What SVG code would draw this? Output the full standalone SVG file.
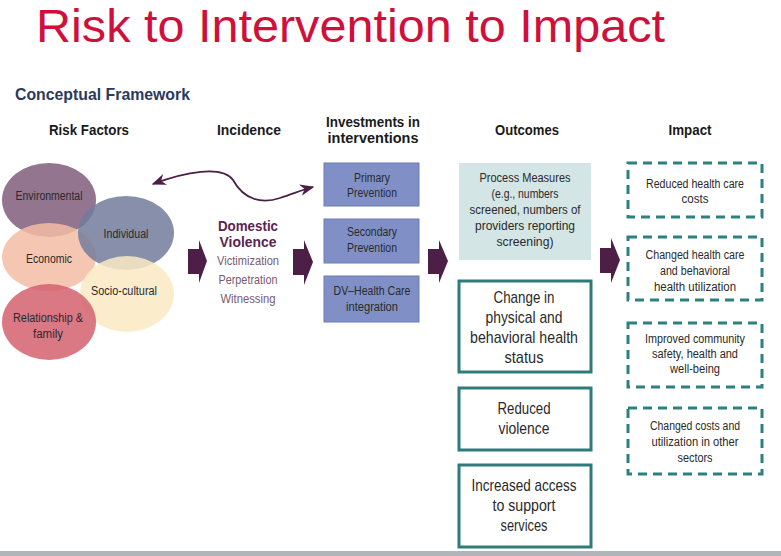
<svg xmlns="http://www.w3.org/2000/svg" width="781" height="556" viewBox="0 0 781 556">
<defs>
<style>
text{font-family:"Liberation Sans Narrow","Liberation Sans",Arial,sans-serif;}
.hd{font-size:15px;font-weight:bold;fill:#1a1a1a;text-anchor:middle;}
.sm{font-size:12.5px;fill:#2a2a2a;text-anchor:middle;}
.big{font-size:17px;fill:#2a2a2a;text-anchor:middle;}
.dv{font-size:14.5px;font-weight:bold;fill:#5a2550;text-anchor:middle;}
.dvs{font-size:13px;fill:#7a5a72;text-anchor:middle;}
.inv{fill:#8090c6;stroke:#6d7db4;stroke-width:1;}
.out{fill:#ffffff;stroke:#2e7b7b;stroke-width:3;}
.imp{fill:#ffffff;stroke:#2e8080;stroke-width:3;stroke-dasharray:9 6;}
.blk{fill:#4e1f46;}
</style>
<marker id="ah" viewBox="0 0 10 10" refX="9" refY="5" markerWidth="8" markerHeight="8" orient="auto-start-reverse">
<path d="M0,1 L10,5 L0,9 L3,5 Z" fill="#4e1f46"/>
</marker>
</defs>
<rect width="781" height="556" fill="#ffffff"/>
<text x="36" y="42" font-size="46" fill="#d0103a" textLength="629" lengthAdjust="spacingAndGlyphs">Risk to Intervention to Impact</text>
<text x="15" y="100" font-size="17" font-weight="bold" fill="#2a3a5c" textLength="175" lengthAdjust="spacingAndGlyphs">Conceptual Framework</text>
<rect x="0" y="551" width="781" height="5" fill="#b0b5b9"/>

<g id="headings">
<text x="89" y="135" class="hd" textLength="80" lengthAdjust="spacingAndGlyphs">Risk Factors</text>
<text x="249" y="135" class="hd" textLength="64" lengthAdjust="spacingAndGlyphs">Incidence</text>
<text x="373" y="127" class="hd" textLength="94" lengthAdjust="spacingAndGlyphs">Investments in</text>
<text x="373" y="143" class="hd" textLength="91" lengthAdjust="spacingAndGlyphs">interventions</text>
<text x="527" y="135" class="hd" textLength="64" lengthAdjust="spacingAndGlyphs">Outcomes</text>
<text x="690" y="135" class="hd" textLength="43" lengthAdjust="spacingAndGlyphs">Impact</text>
</g>

<g id="risk-factors">
<g id="environmental"><ellipse cx="49" cy="200" rx="47" ry="37" fill="#876683" fill-opacity="0.9"/></g>
<g id="economic"><ellipse cx="49" cy="257" rx="47" ry="34" fill="#f3bda4" fill-opacity="0.85"/></g>
<g id="individual"><ellipse cx="126" cy="233" rx="48" ry="37" fill="#737b9c" fill-opacity="0.85"/></g>
<g id="socio-cultural"><ellipse cx="127" cy="294" rx="47" ry="38" fill="#faeac3" fill-opacity="0.85"/></g>
<g id="relationship"><ellipse cx="49" cy="322" rx="47" ry="38" fill="#d4606e" fill-opacity="0.85"/></g>
<text x="49" y="200" class="sm" textLength="67" lengthAdjust="spacingAndGlyphs">Environmental</text>
<text x="126" y="238" class="sm" textLength="45" lengthAdjust="spacingAndGlyphs">Individual</text>
<text x="49" y="263" class="sm" textLength="46" lengthAdjust="spacingAndGlyphs">Economic</text>
<text x="124" y="295" class="sm" textLength="66" lengthAdjust="spacingAndGlyphs">Socio-cultural</text>
<text x="48" y="322" class="sm" textLength="70" lengthAdjust="spacingAndGlyphs">Relationship &amp;</text>
<text x="48" y="338" class="sm" textLength="30" lengthAdjust="spacingAndGlyphs">family</text>
</g>

<g id="incidence">
<text x="248" y="231" class="dv" textLength="60" lengthAdjust="spacingAndGlyphs">Domestic</text>
<text x="248" y="247" class="dv" textLength="57" lengthAdjust="spacingAndGlyphs">Violence</text>
<text x="248" y="265" class="dvs" textLength="62" lengthAdjust="spacingAndGlyphs">Victimization</text>
<text x="248" y="284" class="dvs" textLength="59" lengthAdjust="spacingAndGlyphs">Perpetration</text>
<text x="248" y="303" class="dvs" textLength="55" lengthAdjust="spacingAndGlyphs">Witnessing</text>
</g>

<g id="primary-prevention">
<rect x="324" y="163" width="95" height="43" class="inv"/>
<text x="372" y="182" class="sm" textLength="36" lengthAdjust="spacingAndGlyphs">Primary</text>
<text x="372" y="197" class="sm" textLength="50" lengthAdjust="spacingAndGlyphs">Prevention</text>
</g>
<g id="secondary-prevention">
<rect x="324" y="219" width="95" height="44" class="inv"/>
<text x="372" y="236" class="sm" textLength="50" lengthAdjust="spacingAndGlyphs">Secondary</text>
<text x="372" y="252" class="sm" textLength="50" lengthAdjust="spacingAndGlyphs">Prevention</text>
</g>
<g id="dv-integration">
<rect x="324" y="276" width="95" height="46" class="inv"/>
<text x="372" y="295" class="sm" textLength="77" lengthAdjust="spacingAndGlyphs">DV–Health Care</text>
<text x="372" y="311" class="sm" textLength="52" lengthAdjust="spacingAndGlyphs">integration</text>
</g>

<g id="process-measures">
<rect x="459" y="163" width="132" height="97" fill="#d4e5e5"/>
<text x="525" y="182" class="sm" textLength="91" lengthAdjust="spacingAndGlyphs">Process Measures</text>
<text x="525" y="198" class="sm" textLength="67" lengthAdjust="spacingAndGlyphs">(e.g., numbers</text>
<text x="525" y="214" class="sm" textLength="111" lengthAdjust="spacingAndGlyphs">screened, numbers of</text>
<text x="525" y="230" class="sm" textLength="100" lengthAdjust="spacingAndGlyphs">providers reporting</text>
<text x="525" y="246" class="sm" textLength="57" lengthAdjust="spacingAndGlyphs">screening)</text>
</g>
<g id="health-status">
<rect x="459" y="281" width="132" height="91" class="out"/>
<text x="524" y="303" class="big" textLength="61" lengthAdjust="spacingAndGlyphs">Change in</text>
<text x="524" y="323" class="big" textLength="77" lengthAdjust="spacingAndGlyphs">physical and</text>
<text x="524" y="343" class="big" textLength="108" lengthAdjust="spacingAndGlyphs">behavioral health</text>
<text x="524" y="363" class="big" textLength="39" lengthAdjust="spacingAndGlyphs">status</text>
</g>
<g id="reduced-violence">
<rect x="459" y="388" width="132" height="62" class="out"/>
<text x="524" y="414" class="big" textLength="53" lengthAdjust="spacingAndGlyphs">Reduced</text>
<text x="524" y="434" class="big" textLength="51" lengthAdjust="spacingAndGlyphs">violence</text>
</g>
<g id="support-services">
<rect x="459" y="465" width="132" height="82" class="out"/>
<text x="524" y="491" class="big" textLength="105" lengthAdjust="spacingAndGlyphs">Increased access</text>
<text x="524" y="511" class="big" textLength="63" lengthAdjust="spacingAndGlyphs">to support</text>
<text x="524" y="531" class="big" textLength="47" lengthAdjust="spacingAndGlyphs">services</text>
</g>

<g id="impact-costs">
<rect x="628" y="163" width="134" height="54" class="imp"/>
<text x="695" y="188" class="sm" textLength="98" lengthAdjust="spacingAndGlyphs">Reduced health care</text>
<text x="695" y="203" class="sm" textLength="27" lengthAdjust="spacingAndGlyphs">costs</text>
</g>
<g id="impact-utilization">
<rect x="628" y="237" width="134" height="63" class="imp"/>
<text x="695" y="259" class="sm" textLength="99" lengthAdjust="spacingAndGlyphs">Changed health care</text>
<text x="695" y="275" class="sm" textLength="70" lengthAdjust="spacingAndGlyphs">and behavioral</text>
<text x="695" y="291" class="sm" textLength="82" lengthAdjust="spacingAndGlyphs">health utilization</text>
</g>
<g id="impact-community">
<rect x="628" y="323" width="134" height="64" class="imp"/>
<text x="695" y="343" class="sm" textLength="100" lengthAdjust="spacingAndGlyphs">Improved community</text>
<text x="695" y="358" class="sm" textLength="86" lengthAdjust="spacingAndGlyphs">safety, health and</text>
<text x="695" y="373" class="sm" textLength="50" lengthAdjust="spacingAndGlyphs">well-being</text>
</g>
<g id="impact-sectors">
<rect x="628" y="408" width="134" height="66" class="imp"/>
<text x="695" y="430" class="sm" textLength="90" lengthAdjust="spacingAndGlyphs">Changed costs and</text>
<text x="695" y="446" class="sm" textLength="87" lengthAdjust="spacingAndGlyphs">utilization in other</text>
<text x="695" y="462" class="sm" textLength="35" lengthAdjust="spacingAndGlyphs">sectors</text>
</g>

<g id="connectors">
<path d="M153,184 C185,172 222,165 233,180 C244,200 262,204 280,198 C295,193 305,189 313,187" fill="none" stroke="#4e1f46" stroke-width="1.8" marker-start="url(#ah)" marker-end="url(#ah)"/>
<path class="blk" d="M188,249 L199,249 L199,240 L207,261 L199,283 L199,274 L188,274 Z"/>
<path class="blk" d="M293,249 L304,249 L304,240 L313,262 L304,285 L304,275 L293,275 Z"/>
<path class="blk" d="M428,249 L439,249 L439,240 L448,261 L439,283 L439,274 L428,274 Z"/>
<path class="blk" d="M600,248 L611,248 L611,238 L620,260 L611,283 L611,273 L600,273 Z"/>
</g>
</svg>
